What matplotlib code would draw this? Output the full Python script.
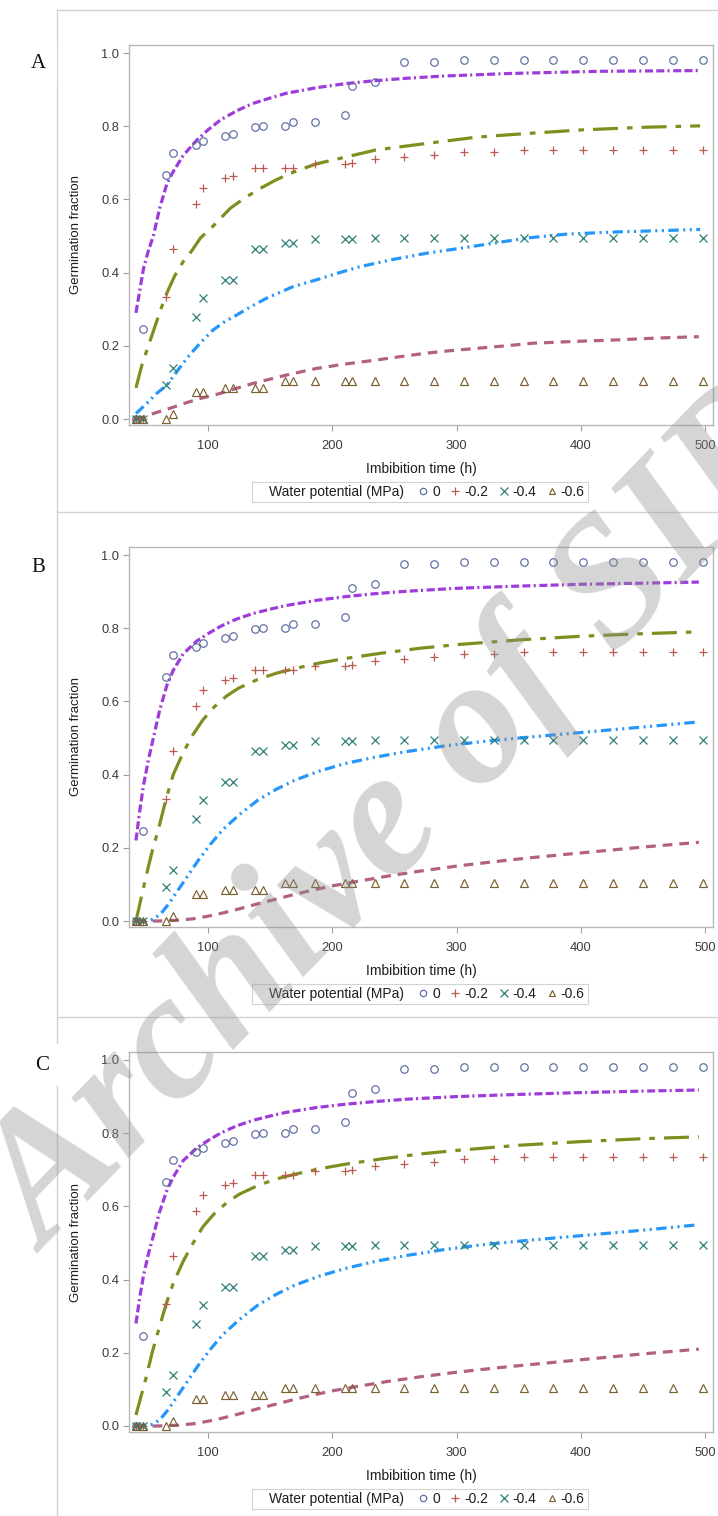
import matplotlib
matplotlib.use("Agg")
import matplotlib.pyplot as plt
from matplotlib.lines import Line2D

plt.rcParams['font.family'] = ['Liberation Sans', 'DejaVu Sans']
plt.rcParams['lines.scale_dashes'] = False

# ---------------- data ----------------
times = [42, 48, 66, 72, 90, 96, 114, 120, 138, 144, 162, 168, 186, 210, 216,
         234, 258, 282, 306, 330, 354, 378, 402, 426, 450, 474, 498]
obs_0 = [0.0, 0.245, 0.667, 0.726, 0.75, 0.76, 0.774, 0.778, 0.797, 0.80, 0.80,
         0.811, 0.811, 0.831, 0.911, 0.922, 0.976, 0.976, 0.98, 0.98, 0.98, 0.98,
         0.98, 0.98, 0.98, 0.98, 0.98]
obs_02 = [0.0, 0.0, 0.334, 0.464, 0.587, 0.63, 0.658, 0.665, 0.685, 0.685, 0.685,
          0.685, 0.696, 0.696, 0.70, 0.71, 0.715, 0.721, 0.73, 0.73, 0.735, 0.735,
          0.735, 0.735, 0.735, 0.735, 0.735]
obs_04 = [0.0, 0.0, 0.093, 0.138, 0.28, 0.33, 0.38, 0.38, 0.464, 0.464, 0.48, 0.48,
          0.491, 0.491, 0.491, 0.495, 0.495, 0.495, 0.495, 0.495, 0.495, 0.495,
          0.495, 0.495, 0.495, 0.495, 0.495]
obs_06 = [0.0, 0.0, 0.0, 0.015, 0.073, 0.073, 0.085, 0.085, 0.085, 0.085, 0.105,
          0.105, 0.103, 0.103, 0.103, 0.103, 0.103, 0.103, 0.103, 0.103, 0.103,
          0.103, 0.103, 0.103, 0.103, 0.103, 0.103]

# fitted curves, panel A
A_fit0_x = [42, 45, 48, 52, 56, 61, 67, 72, 80, 91, 100, 110, 123, 136, 150, 163,
            187, 210, 233, 260, 289, 343, 415, 495]
A_fit0_y = [0.29, 0.35, 0.41, 0.46, 0.50, 0.575, 0.644, 0.676, 0.72, 0.762, 0.79,
            0.817, 0.842, 0.862, 0.877, 0.89, 0.905, 0.916, 0.924, 0.931, 0.937,
            0.944, 0.95, 0.952]
A_fit02_x = [42, 47, 52, 57, 62, 67, 73, 80, 87, 94, 102, 110, 118, 130, 142, 154,
             166, 187, 206, 235, 276, 316, 348, 401, 450, 496]
A_fit02_y = [0.085, 0.15, 0.20, 0.25, 0.30, 0.345, 0.39, 0.43, 0.46, 0.495, 0.52,
             0.548, 0.576, 0.605, 0.63, 0.652, 0.671, 0.697, 0.712, 0.735, 0.753,
             0.77, 0.778, 0.79, 0.797, 0.801]
A_fit04_x = [42, 50, 58, 67, 75, 83, 93, 104, 113, 123, 135, 147, 158, 168, 187,
             205, 222, 249, 276, 302, 329, 358, 388, 428, 468, 496]
A_fit04_y = [0.015, 0.04, 0.068, 0.093, 0.13, 0.166, 0.205, 0.243, 0.265, 0.284,
             0.308, 0.33, 0.346, 0.361, 0.38, 0.399, 0.416, 0.436, 0.453, 0.466,
             0.48, 0.495, 0.505, 0.511, 0.515, 0.518]
A_fit06_x = [42, 48, 56, 70, 83, 96, 110, 123, 136, 150, 163, 187, 210, 235, 256,
             276, 296, 316, 340, 361, 395, 428, 460, 495]
A_fit06_y = [0.0, 0.005, 0.015, 0.03, 0.045, 0.058, 0.07, 0.084, 0.097, 0.109,
             0.12, 0.138, 0.15, 0.161, 0.171, 0.18, 0.187, 0.193, 0.2, 0.207,
             0.212, 0.216, 0.221, 0.225]

# fitted curves, panel B
B_fit0_x = [42, 45, 48, 52, 56, 61, 67, 72, 80, 91, 100, 110, 123, 136, 150, 163,
            187, 210, 233, 260, 300, 350, 400, 450, 495]
B_fit0_y = [0.22, 0.30, 0.37, 0.44, 0.50, 0.575, 0.645, 0.685, 0.73, 0.765, 0.785,
            0.805, 0.825, 0.84, 0.852, 0.862, 0.876, 0.886, 0.894, 0.901, 0.909,
            0.915, 0.92, 0.923, 0.926]
B_fit02_x = [42, 46, 50, 55, 60, 66, 72, 80, 88, 96, 105, 115, 125, 140, 155, 170,
             190, 210, 240, 270, 300, 350, 400, 450, 495]
B_fit02_y = [0.0, 0.06, 0.12, 0.19, 0.25, 0.33, 0.40, 0.46, 0.51, 0.55, 0.585,
             0.615, 0.637, 0.66, 0.677, 0.69, 0.705, 0.717, 0.732, 0.745, 0.755,
             0.768, 0.778, 0.785, 0.79]
B_fit04_x = [42, 50, 56, 62, 68, 75, 83, 92, 102, 112, 125, 140, 155, 170, 190,
             210, 235, 260, 290, 320, 360, 400, 450, 495]
B_fit04_y = [0.0, 0.0, 0.005, 0.02, 0.045, 0.08, 0.12, 0.165, 0.21, 0.25, 0.29,
             0.33, 0.36, 0.385, 0.41, 0.43, 0.448, 0.463, 0.478, 0.49, 0.503,
             0.515, 0.53, 0.544]
B_fit06_x = [42, 60, 75, 88, 100, 112, 125, 140, 155, 170, 185, 200, 220, 245,
             270, 300, 330, 360, 400, 450, 495]
B_fit06_y = [0.0, 0.0, 0.002, 0.006, 0.013, 0.022, 0.033, 0.047, 0.06, 0.073,
             0.085, 0.096, 0.108, 0.123, 0.136, 0.15, 0.162, 0.173, 0.186, 0.202,
             0.215]

# fitted curves, panel C
C_fit0_x = [42, 45, 48, 52, 56, 61, 67, 72, 80, 91, 100, 110, 123, 136, 150, 163,
            187, 210, 233, 260, 300, 350, 400, 450, 495]
C_fit0_y = [0.28, 0.35, 0.41, 0.47, 0.52, 0.585, 0.645, 0.68, 0.725, 0.76, 0.78,
            0.80, 0.82, 0.835, 0.847, 0.857, 0.87, 0.879, 0.886, 0.893, 0.9,
            0.906, 0.911, 0.915, 0.918]
C_fit02_x = [42, 46, 50, 55, 60, 66, 72, 80, 88, 96, 105, 115, 125, 140, 155, 170,
             190, 210, 240, 270, 300, 350, 400, 450, 495]
C_fit02_y = [0.03, 0.08, 0.13, 0.20, 0.26, 0.33, 0.39, 0.45, 0.50, 0.545, 0.58,
             0.61, 0.633, 0.657, 0.675, 0.688, 0.703, 0.715, 0.73, 0.743, 0.753,
             0.767, 0.777, 0.785, 0.79]
C_fit04_x = [42, 50, 56, 62, 68, 75, 83, 92, 102, 112, 125, 140, 155, 170, 190,
             210, 235, 260, 290, 320, 360, 400, 450, 495]
C_fit04_y = [0.0, 0.0, 0.005, 0.02, 0.045, 0.08, 0.12, 0.165, 0.21, 0.25, 0.29,
             0.33, 0.36, 0.385, 0.41, 0.43, 0.45, 0.466, 0.482, 0.495, 0.508,
             0.52, 0.535, 0.55]
C_fit06_x = [42, 60, 75, 88, 100, 112, 125, 140, 155, 170, 185, 200, 220, 245,
             270, 300, 330, 360, 400, 450, 495]
C_fit06_y = [0.0, 0.0, 0.002, 0.006, 0.013, 0.022, 0.033, 0.047, 0.06, 0.073,
             0.085, 0.096, 0.108, 0.122, 0.134, 0.147, 0.158, 0.168, 0.181, 0.197,
             0.21]

legend_labels = ['0', '-0.2', '-0.4', '-0.6']
x_ticks = [100, 200, 300, 400, 500]
y_ticks = [0.0, 0.2, 0.4, 0.6, 0.8, 1.0]

# ---------------- figure ----------------
W, H = 718, 1516
fig = plt.figure(figsize=(W / 100, H / 100), dpi=100)

def rect(l, t, r, b):
    return [l / W, 1 - b / H, (r - l) / W, (b - t) / H]

mk_colors = ['#5a6aa0', '#b85a50', '#2f8077', '#7a6030']
markers = ['o', '+', 'x', '^']
line_colors = ['#9D3CDB', '#7F8E1F', '#2597FA', '#B26084']
line_styles = [(0, (5.8, 2.3, 5.8, 2.3, 1.5, 2.6)),
               (0, (18, 6.5, 4, 6.5)),
               (0, (7.5, 3.2, 1.5, 3.2, 1.5, 3.2)),
               (0, (7, 5))]
obs = [obs_0, obs_02, obs_04, obs_06]

# every panel is the same SAS layout, shifted down by its offset
panels = [
    ('A', 0, (38, 64),
     [(A_fit0_x, A_fit0_y), (A_fit02_x, A_fit02_y), (A_fit04_x, A_fit04_y), (A_fit06_x, A_fit06_y)]),
    ('B', 502, (38, 568),
     [(B_fit0_x, B_fit0_y), (B_fit02_x, B_fit02_y), (B_fit04_x, B_fit04_y), (B_fit06_x, B_fit06_y)]),
    ('C', 1007, (42, 1065),
     [(C_fit0_x, C_fit0_y), (C_fit02_x, C_fit02_y), (C_fit04_x, C_fit04_y), (C_fit06_x, C_fit06_y)]),
]

# outer panel frames
frame_col = '#d2d2d2'
for y in [10, 512, 1017]:
    fig.add_artist(Line2D([57 / W, 1.0], [1 - y / H, 1 - y / H], color=frame_col, lw=1.0))
fig.add_artist(Line2D([57 / W, 57 / W], [0, 1 - 10 / H], color=frame_col, lw=1.0))

for name, off, (lx, ly), fits in panels:
    l, t, r, b = 129, 45 + off, 713, 425 + off
    y1, y0 = 53 + off, 419 + off
    ax = fig.add_axes(rect(l, t, r, b))
    for (fx, fy), c, ls in zip(fits, line_colors, line_styles):
        ax.plot(fx, fy, color=c, lw=2.3, linestyle=ls, zorder=2)
    handles = []
    for yv, m, c in zip(obs, markers, mk_colors):
        if m in ('o', '^'):
            h, = ax.plot(times, yv, linestyle='none', marker=m, ms=5.4, mfc='none',
                         mec=c, mew=0.85, zorder=3)
        else:
            h, = ax.plot(times, yv, linestyle='none', marker=m, ms=6.2, mec=c,
                         mew=0.9, zorder=3)
        handles.append(h)
    unit = y0 - y1
    ax.set_xlim(36.4, 506.4)
    ax.set_ylim(-(b - y0) / unit, 1 + (y1 - t) / unit)
    ax.set_xticks(x_ticks)
    ax.set_yticks(y_ticks)
    ax.set_yticklabels([f'{v:.1f}' for v in y_ticks])
    ax.tick_params(direction='out', length=4.5, width=0.8, color='#a0a0a0',
                   labelcolor='#3c3c3c', labelsize=9.3)
    ax.tick_params(axis='y', pad=2.5)
    ax.tick_params(axis='x', pad=6.5)
    for s in ax.spines.values():
        s.set_color('#b8b8b8')
        s.set_linewidth(1.0)
    ax.set_xlabel('Imbibition time (h)', fontsize=10, color='#1e1e1e')
    ax.set_ylabel('Germination fraction', fontsize=9.5, color='#1e1e1e')
    ax.xaxis.set_label_coords(0.5, -37 / (b - t))
    ax.yaxis.set_label_coords((82 - l) / (r - l), 0.5)

    blank = Line2D([], [], linestyle='none', marker='none')
    leg_handles = [blank] + handles
    leg_labels = ['Water potential (MPa) '] + legend_labels
    leg = fig.legend(leg_handles, leg_labels, loc='center',
                     bbox_to_anchor=(420 / W, 1 - (492 + off) / H), ncol=5,
                     fontsize=10, frameon=True, fancybox=False, edgecolor='#c8c8c8',
                     handlelength=0.7, handletextpad=0.3, columnspacing=0.75,
                     borderpad=0.2, borderaxespad=0, markerscale=0.85)
    leg.get_frame().set_linewidth(0.8)
    for txt in leg.get_texts():
        txt.set_color('#1e1e1e')

    fig.text(lx / W, 1 - ly / H, name, family='Liberation Serif', fontsize=15,
             ha='center', va='center', color='#111111',
             bbox=dict(facecolor='white', edgecolor='none', pad=8))

# watermark
fig.text(46 / W, 1 - 1254 / H, 'Archive of SID', family='Liberation Serif',
         fontsize=130, weight='bold', style='italic', color='#909090', alpha=0.38,
         rotation=46, rotation_mode='anchor', ha='left', va='baseline', zorder=50)

fig.savefig('out.png', dpi=100, facecolor='white')
